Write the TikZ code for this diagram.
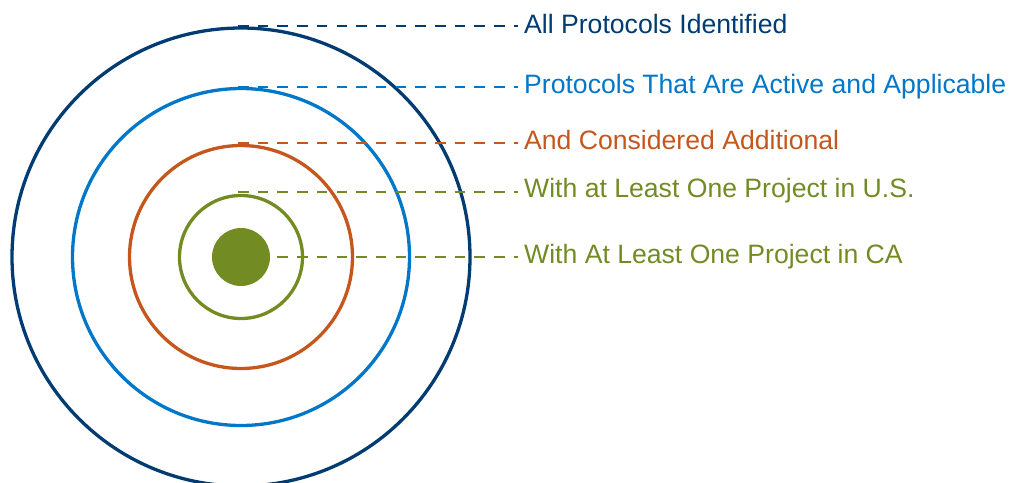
\documentclass[tikz,border=0pt]{standalone}
\usepackage{fontspec}
\setmainfont{Liberation Sans}
\definecolor{cnavy}{HTML}{003B71}
\definecolor{cblue}{HTML}{0077C8}
\definecolor{corange}{HTML}{C5561C}
\definecolor{cgreen}{HTML}{728B22}
\begin{document}
\begin{tikzpicture}[x=1pt,y=-1pt,
  ring/.style={draw=#1,circle,line width=3.3pt,inner sep=0pt,outer sep=0pt},
  dline/.style={draw=#1,line width=2.5pt,dash pattern=on 10.5pt off 9.2pt},
  lbl/.style={text=#1,anchor=base west,inner sep=0pt,font=\fontsize{26.6}{30}\selectfont}]
\useasboundingbox (0,0) rectangle (1009,482);
\coordinate (c) at (241,257);
% dashed leader lines
\coordinate (s1) at (238,26);  \coordinate (e1) at (518,26);
\coordinate (s2) at (238,87);  \coordinate (e2) at (518,87);
\coordinate (s3) at (238,143); \coordinate (e3) at (518,143);
\coordinate (s4) at (238,192); \coordinate (e4) at (518,192);
\coordinate (s5) at (238,257); \coordinate (e5) at (518,257);
% rings
\node[ring=cnavy,minimum size=458pt] (r1) at (c) {};
\node[ring=cblue,minimum size=337pt] (r2) at (c) {};
\node[ring=corange,minimum size=223pt] (r3) at (c) {};
\node[ring=cgreen,minimum size=123pt] (r4) at (c) {};
\draw[dline=cnavy] (s1) -- (e1);
\draw[dline=cblue] (s2) -- (e2);
\draw[dline=corange] (s3) -- (e3);
\draw[dline=cgreen] (s4) -- (e4);
\draw[dline=cgreen] (s5) -- (e5);
\node[circle,fill=cgreen,inner sep=0pt,minimum size=58pt] (core) at (c) {};
% labels
\node[lbl=cnavy] (t1) at (524,33) {All Protocols Identified};
\node[lbl=cblue] (t2) at (524,93) {Protocols That Are Active and Applicable};
\node[lbl=corange] (t3) at (524,149) {And Considered Additional};
\node[lbl=cgreen] (t4) at (524,197) {With at Least One Project in U.S.};
\node[lbl=cgreen] (t5) at (524,263) {With At Least One Project in CA};
\end{tikzpicture}
\end{document}
